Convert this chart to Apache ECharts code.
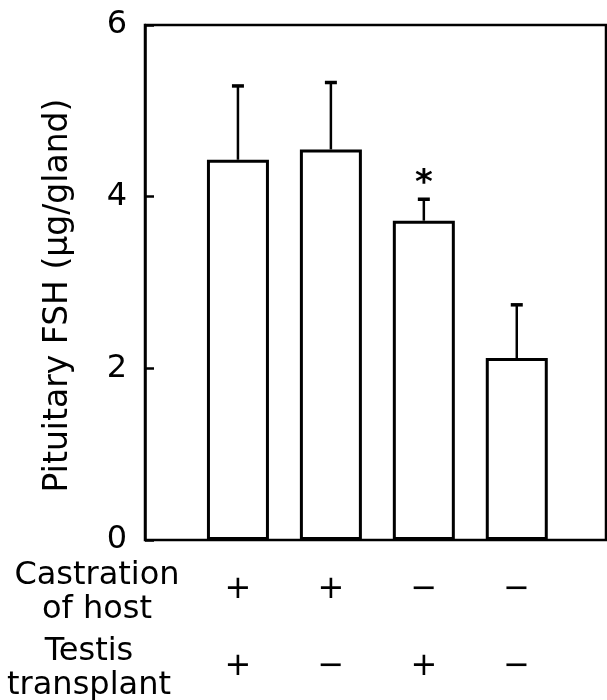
<!DOCTYPE html>
<html>
<head>
<meta charset="utf-8">
<script src="https://cdn.jsdelivr.net/npm/echarts@6/dist/echarts.min.js"></script>
<style>
  html, body { margin: 0; padding: 0; background: #fff; }
  #chart { width: 607px; height: 700px; }
</style>
</head>
<body>
<div id="chart"></div>
<script>
// group positions on the x value axis
const groups = [1, 2, 3, 4];
const fshMean = [4.43, 4.55, 3.72, 2.12];
const fshErrTop = [5.29, 5.33, 3.97, 2.74];
const sigMarks = ["", "", "*", ""];
const castration = ["+", "+", "\u2212", "\u2212"];
const transplant = ["+", "\u2212", "+", "\u2212"];
const yTicks = [0, 2, 4, 6];

const FONT = "DejaVu Sans";
const X_MAX = 4.96;
const chart = echarts.init(document.getElementById("chart"));

function signAxis(signs, margin) {
  return {
    type: "value",
    min: 0,
    max: X_MAX,
    interval: 1,
    position: "bottom",
    axisLine: { show: false },
    axisTick: { show: false },
    splitLine: { show: false },
    axisLabel: {
      margin: margin,
      color: "#000",
      fontFamily: FONT,
      fontSize: 32,
      showMaxLabel: false,
      formatter: (v) => signs[v - 1] || ""
    }
  };
}

const option = {
  animation: false,
  grid: {
    left: 145,
    right: 1,
    top: 25,
    bottom: 160,
    show: true,
    borderColor: "#000",
    borderWidth: 2.5,
    backgroundColor: "transparent"
  },
  xAxis: [
    signAxis(castration, 34),
    signAxis(transplant, 111)
  ],
  yAxis: {
    type: "value",
    min: 0,
    max: 6,
    interval: 2,
    name: "Pituitary FSH (\u03bcg/gland)",
    nameLocation: "middle",
    nameGap: 70,
    nameTextStyle: { color: "#000", fontFamily: FONT, fontSize: 33, padding: [0, 26, 0, 0] },
    axisLine: { show: true, lineStyle: { color: "#000", width: 2.5 } },
    axisTick: { show: true, inside: true, length: 9, lineStyle: { color: "#000", width: 2.5 } },
    splitLine: { show: false },
    axisLabel: {
      margin: 18,
      color: "#000",
      fontFamily: FONT,
      fontSize: 32,
      formatter: (v) => (yTicks.indexOf(v) >= 0 ? String(v) : "")
    }
  },
  series: [
    {
      type: "bar",
      barWidth: 62,
      data: groups.map((g, i) => [g, fshMean[i]]),
      itemStyle: { color: "#fff", borderColor: "#000", borderWidth: 3 },
      z: 2
    },
    {
      type: "custom",
      data: groups.map((g, i) => [g, fshMean[i], fshErrTop[i], i]),
      z: 3,
      renderItem: function (params, api) {
        const base = api.coord([api.value(0), api.value(1)]);
        const top = api.coord([api.value(0), api.value(2)]);
        const cap = 6;
        const children = [
          {
            type: "line",
            shape: { x1: base[0], y1: base[1], x2: top[0], y2: top[1] },
            style: { stroke: "#000", lineWidth: 2.5 }
          },
          {
            type: "line",
            shape: { x1: top[0] - cap, y1: top[1], x2: top[0] + cap, y2: top[1] },
            style: { stroke: "#000", lineWidth: 3.5 }
          }
        ];
        const mark = sigMarks[api.value(3)];
        if (mark) {
          children.push({
            type: "text",
            style: {
              x: top[0],
              y: top[1] + 2,
              text: mark,
              fill: "#000",
              font: "bold 34px " + FONT,
              textAlign: "center",
              textVerticalAlign: "bottom"
            }
          });
        }
        return { type: "group", children: children };
      }
    }
  ],
  graphic: [
    {
      type: "text",
      left: 97 - 85,
      top: 559,
      style: {
        text: "Castration\nof host",
        fill: "#000",
        font: "32px " + FONT,
        textAlign: "center",
        lineHeight: 34,
        width: 170
      }
    },
    {
      type: "text",
      left: 89 - 85,
      top: 635,
      style: {
        text: "Testis\ntransplant",
        fill: "#000",
        font: "32px " + FONT,
        textAlign: "center",
        lineHeight: 34,
        width: 170
      }
    }
  ]
};

chart.setOption(option);
</script>
</body>
</html>
